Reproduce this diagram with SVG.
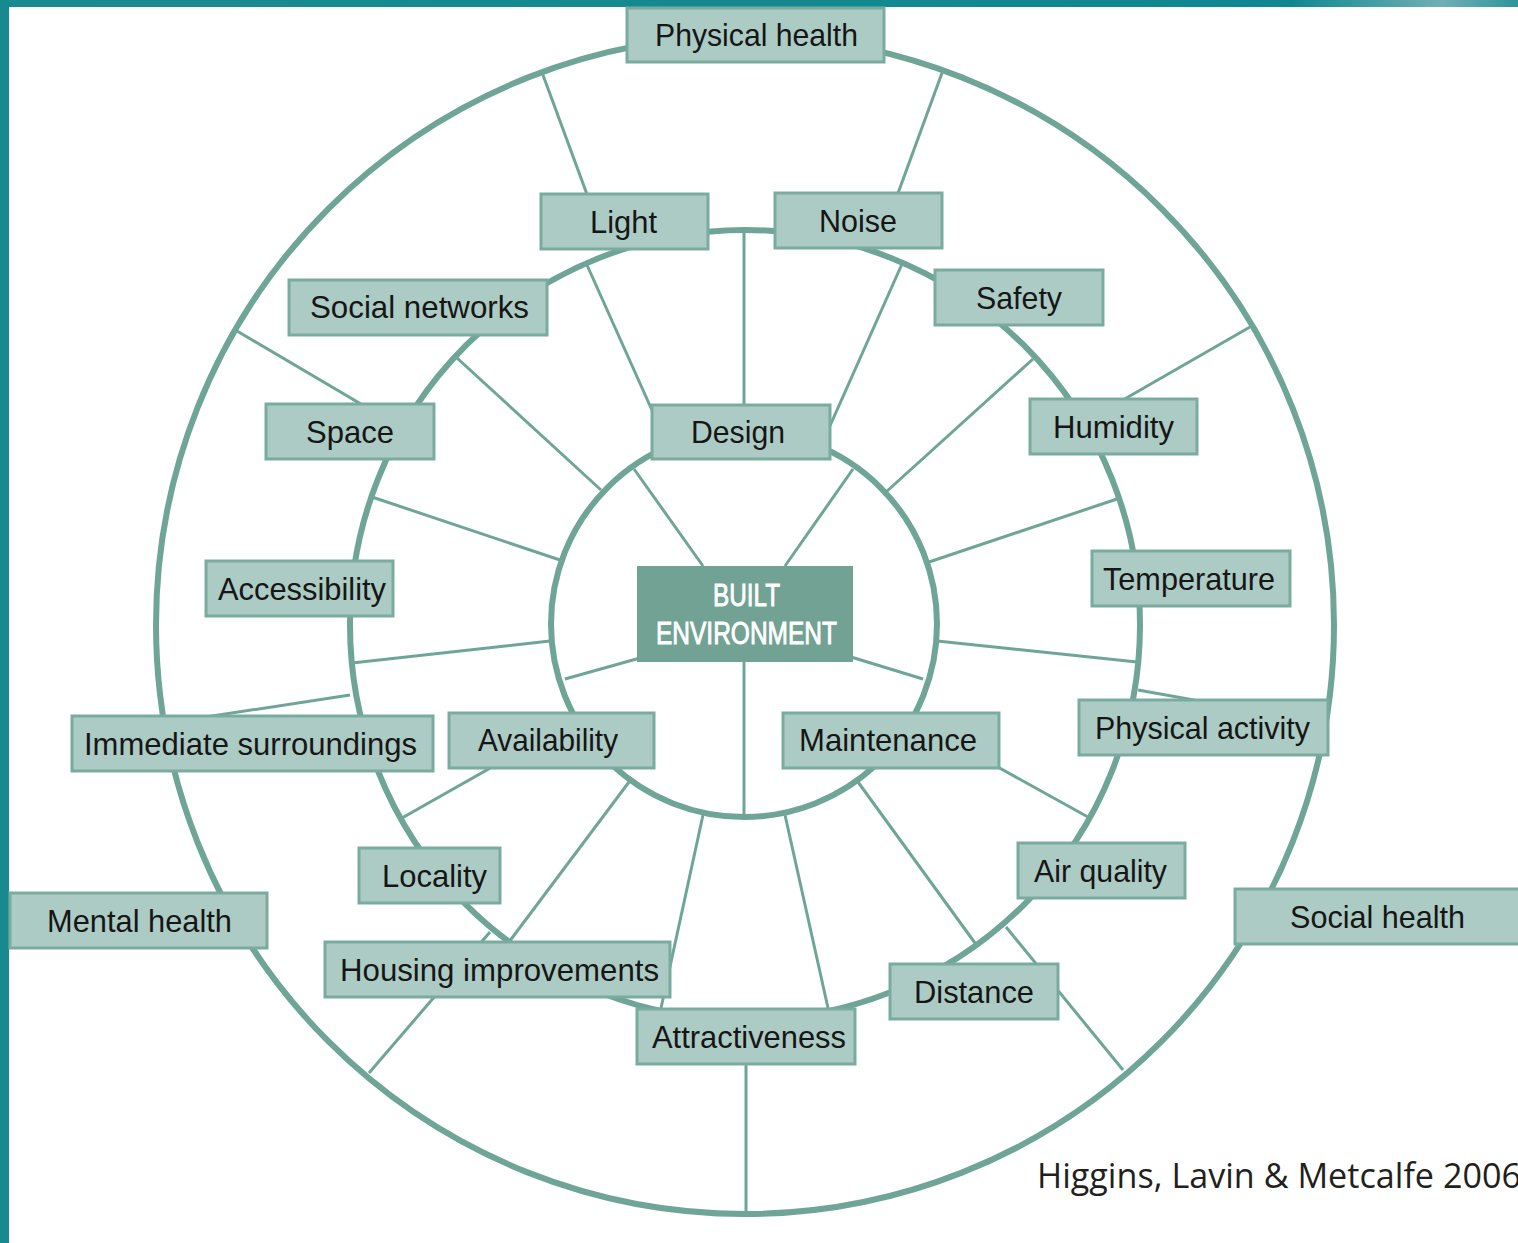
<svg xmlns="http://www.w3.org/2000/svg" width="1518" height="1243" viewBox="0 0 1518 1243">
<defs>
<linearGradient id="topband" x1="0" y1="0" x2="1" y2="0">
<stop offset="0" stop-color="#1a8b90"/>
<stop offset="0.85" stop-color="#0f8790"/>
<stop offset="0.95" stop-color="#6fb0b4"/>
<stop offset="1" stop-color="#2d959a"/>
</linearGradient>
<style>
.ring{fill:none;stroke:#6fa597;stroke-width:6}
.spoke{fill:none;stroke:#6fa597;stroke-width:3}
.box{fill:#accbc4;stroke:#7aab9f;stroke-width:3}
.lbl{font-family:"Liberation Sans",Arial,Helvetica,sans-serif;font-size:32px;fill:#161616}
.core{fill:#72a294}
.corelbl{font-family:"Liberation Sans",Arial,sans-serif;font-size:31px;fill:#ffffff;stroke:#ffffff;stroke-width:0.9}
.cite{font-family:"Open Sans","Noto Sans","Liberation Sans",sans-serif;font-size:34px;fill:#231f20}
</style>
</defs>
<rect x="0" y="0" width="1518" height="1243" fill="#ffffff"/>
<rect x="0" y="0" width="1518" height="7" fill="url(#topband)"/>
<rect x="0" y="0" width="9" height="1243" fill="#168a8e"/>

<g id="connectors">
<circle class="ring" cx="745" cy="625" r="589"/>
<circle class="ring" cx="745" cy="625" r="395"/>
<circle class="ring" cx="744" cy="624" r="193"/>
<!-- inner spokes -->
<line class="spoke" x1="703" y1="566" x2="634" y2="469"/>
<line class="spoke" x1="785" y1="566" x2="853" y2="469"/>
<line class="spoke" x1="640" y1="658" x2="565" y2="679"/>
<line class="spoke" x1="851" y1="657" x2="923" y2="679"/>
<line class="spoke" x1="744" y1="661" x2="744" y2="815"/>
<!-- middle ring spokes -->
<line class="spoke" x1="744" y1="232" x2="744" y2="432"/>
<line class="spoke" x1="587" y1="265" x2="668" y2="446"/>
<line class="spoke" x1="902" y1="264" x2="821" y2="446"/>
<line class="spoke" x1="457" y1="358" x2="601" y2="490"/>
<line class="spoke" x1="1033" y1="359" x2="886" y2="492"/>
<line class="spoke" x1="372" y1="497" x2="560" y2="560"/>
<line class="spoke" x1="1117" y1="499" x2="929" y2="562"/>
<line class="spoke" x1="352" y1="663" x2="550" y2="641"/>
<line class="spoke" x1="1137" y1="662" x2="937" y2="641"/>
<line class="spoke" x1="402" y1="818" x2="575" y2="720"/>
<line class="spoke" x1="629" y1="782" x2="509" y2="942"/>
<line class="spoke" x1="703" y1="815" x2="661" y2="1008"/>
<line class="spoke" x1="785" y1="815" x2="828" y2="1008"/>
<line class="spoke" x1="858" y1="782" x2="975" y2="943"/>
<line class="spoke" x1="913" y1="720" x2="1088" y2="817"/>
<!-- outer ring spokes -->
<line class="spoke" x1="543" y1="75" x2="602" y2="235"/>
<line class="spoke" x1="942" y1="73" x2="890" y2="215"/>
<line class="spoke" x1="237" y1="331" x2="405" y2="430"/>
<line class="spoke" x1="1250" y1="327" x2="1095" y2="416"/>
<line class="spoke" x1="160" y1="724" x2="350" y2="695"/>
<line class="spoke" x1="1138" y1="690" x2="1328" y2="724"/>
<line class="spoke" x1="369" y1="1073" x2="490" y2="932"/>
<line class="spoke" x1="1006" y1="927" x2="1123" y2="1070"/>
<line class="spoke" x1="746" y1="1019" x2="746" y2="1213"/>
</g>

<g id="node-physical-health"><rect class="box" x="627" y="8" width="257" height="54"/><text class="lbl" x="655" y="46" textLength="203" lengthAdjust="spacingAndGlyphs">Physical health</text></g>
<g id="node-light"><rect class="box" x="541" y="194" width="167" height="55"/><text class="lbl" x="590" y="233" textLength="67" lengthAdjust="spacingAndGlyphs">Light</text></g>
<g id="node-noise"><rect class="box" x="775" y="193" width="167" height="55"/><text class="lbl" x="819" y="232" textLength="78" lengthAdjust="spacingAndGlyphs">Noise</text></g>
<g id="node-social-networks"><rect class="box" x="289" y="280" width="258" height="55"/><text class="lbl" x="310" y="318" textLength="219" lengthAdjust="spacingAndGlyphs">Social networks</text></g>
<g id="node-safety"><rect class="box" x="935" y="270" width="168" height="55"/><text class="lbl" x="976" y="309" textLength="86" lengthAdjust="spacingAndGlyphs">Safety</text></g>
<g id="node-space"><rect class="box" x="266" y="404" width="168" height="55"/><text class="lbl" x="306" y="443" textLength="88" lengthAdjust="spacingAndGlyphs">Space</text></g>
<g id="node-design"><rect class="box" x="652" y="405" width="178" height="54"/><text class="lbl" x="691" y="443" textLength="94" lengthAdjust="spacingAndGlyphs">Design</text></g>
<g id="node-humidity"><rect class="box" x="1030" y="399" width="167" height="55"/><text class="lbl" x="1053" y="438" textLength="121" lengthAdjust="spacingAndGlyphs">Humidity</text></g>
<g id="node-accessibility"><rect class="box" x="206" y="561" width="187" height="55"/><text class="lbl" x="218" y="600" textLength="168" lengthAdjust="spacingAndGlyphs">Accessibility</text></g>
<g id="node-temperature"><rect class="box" x="1092" y="551" width="198" height="55"/><text class="lbl" x="1103" y="590" textLength="172" lengthAdjust="spacingAndGlyphs">Temperature</text></g>
<g id="node-built-environment"><rect class="core" x="637" y="566" width="216" height="96"/><text class="corelbl" x="713" y="606" textLength="67" lengthAdjust="spacingAndGlyphs">BUILT</text><text class="corelbl" x="656" y="644" textLength="181" lengthAdjust="spacingAndGlyphs">ENVIRONMENT</text></g>
<g id="node-physical-activity"><rect class="box" x="1079" y="700" width="249" height="55"/><text class="lbl" x="1095" y="739" textLength="215" lengthAdjust="spacingAndGlyphs">Physical activity</text></g>
<g id="node-immediate-surroundings"><rect class="box" x="72" y="716" width="361" height="55"/><text class="lbl" x="84" y="755" textLength="333" lengthAdjust="spacingAndGlyphs">Immediate surroundings</text></g>
<g id="node-availability"><rect class="box" x="449" y="713" width="205" height="55"/><text class="lbl" x="478" y="751" textLength="140" lengthAdjust="spacingAndGlyphs">Availability</text></g>
<g id="node-maintenance"><rect class="box" x="783" y="713" width="216" height="55"/><text class="lbl" x="799" y="751" textLength="178" lengthAdjust="spacingAndGlyphs">Maintenance</text></g>
<g id="node-locality"><rect class="box" x="359" y="848" width="141" height="55"/><text class="lbl" x="382" y="887" textLength="105" lengthAdjust="spacingAndGlyphs">Locality</text></g>
<g id="node-air-quality"><rect class="box" x="1018" y="843" width="167" height="55"/><text class="lbl" x="1034" y="882" textLength="133" lengthAdjust="spacingAndGlyphs">Air quality</text></g>
<g id="node-mental-health"><rect class="box" x="10" y="893" width="257" height="55"/><text class="lbl" x="47" y="932" textLength="185" lengthAdjust="spacingAndGlyphs">Mental health</text></g>
<g id="node-social-health"><rect class="box" x="1235" y="889" width="285" height="55"/><text class="lbl" x="1290" y="928" textLength="175" lengthAdjust="spacingAndGlyphs">Social health</text></g>
<g id="node-housing-improvements"><rect class="box" x="325" y="942" width="345" height="55"/><text class="lbl" x="340" y="981" textLength="319" lengthAdjust="spacingAndGlyphs">Housing improvements</text></g>
<g id="node-distance"><rect class="box" x="890" y="964" width="168" height="55"/><text class="lbl" x="914" y="1003" textLength="120" lengthAdjust="spacingAndGlyphs">Distance</text></g>
<g id="node-attractiveness"><rect class="box" x="637" y="1009" width="218" height="55"/><text class="lbl" x="652" y="1048" textLength="194" lengthAdjust="spacingAndGlyphs">Attractiveness</text></g>

<text class="cite" x="1037" y="1188" textLength="484" lengthAdjust="spacingAndGlyphs">Higgins, Lavin &amp; Metcalfe 2006</text>
</svg>
